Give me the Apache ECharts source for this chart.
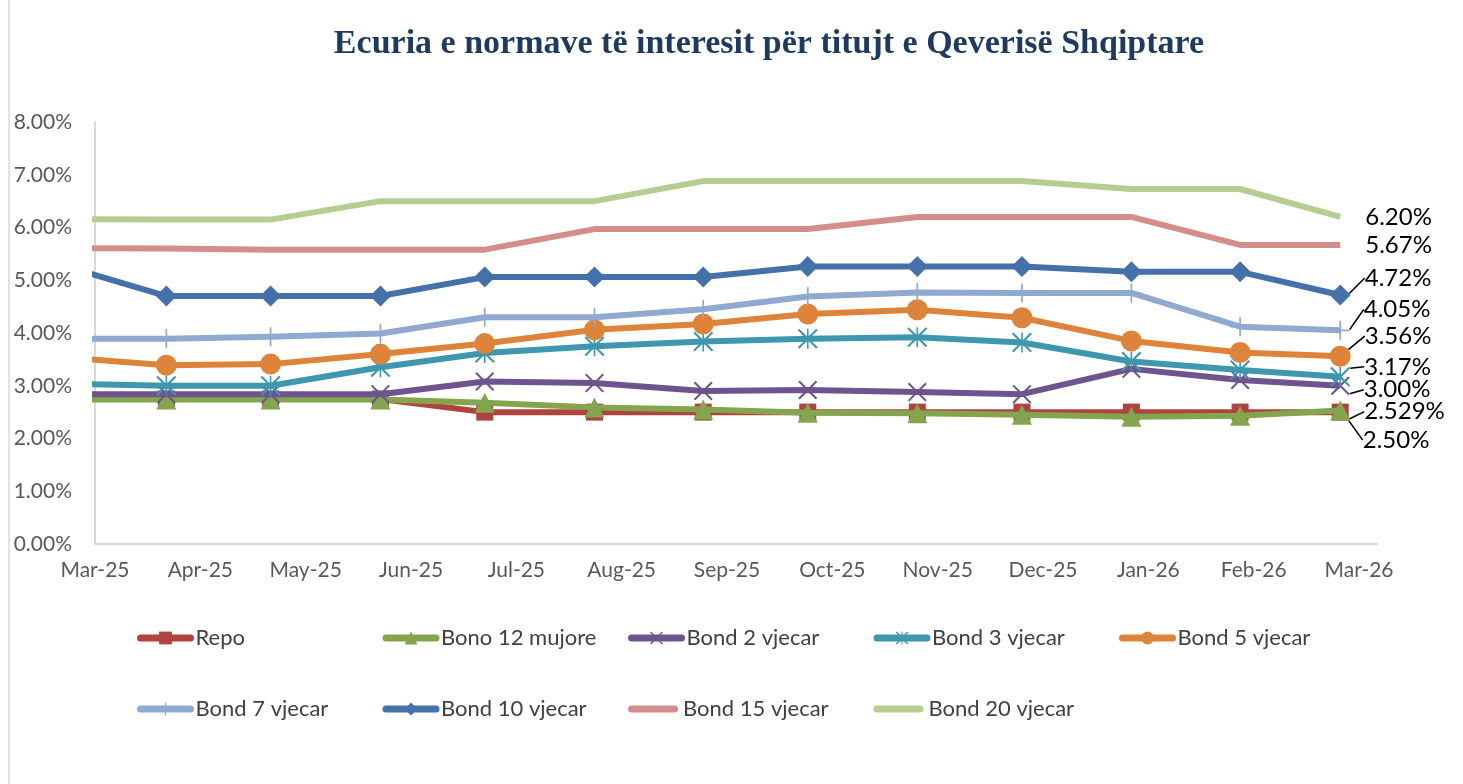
<!DOCTYPE html>
<html><head><meta charset="utf-8">
<script src="https://cdn.jsdelivr.net/npm/echarts@6/dist/echarts.min.js"></script>
<style>html,body{margin:0;padding:0;background:#fff}#c{width:1463px;height:784px}</style>
</head><body><div id="c"></div>
<script>
// ---------- DATA ----------
const chartTitle = 'Ecuria e normave të interesit për titujt e Qeverisë Shqiptare';
const monthLabels = ['Mar-25','Apr-25','May-25','Jun-25','Jul-25','Aug-25','Sep-25','Oct-25','Nov-25','Dec-25','Jan-26','Feb-26','Mar-26'];
const dates = ['2025-02-20','2025-03-22','2025-04-21','2025-05-23','2025-06-22','2025-07-24','2025-08-25','2025-09-24','2025-10-26','2025-11-25','2025-12-27','2026-01-28','2026-02-24'];
const seriesNames = ['Repo','Bono 12 mujore','Bond 2 vjecar','Bond 3 vjecar','Bond 5 vjecar','Bond 7 vjecar','Bond 10 vjecar','Bond 15 vjecar','Bond 20 vjecar'];
const repo   = [2.75,2.75,2.75,2.75,2.50,2.50,2.50,2.50,2.50,2.50,2.50,2.50,2.50];
const bono12 = [2.74,2.74,2.74,2.74,2.68,2.59,2.55,2.49,2.48,2.45,2.41,2.43,2.529];
const bond2  = [2.84,2.84,2.84,2.84,3.08,3.05,2.90,2.92,2.88,2.84,3.32,3.11,3.00];
const bond3  = [3.04,3.00,3.00,3.35,3.62,3.75,3.84,3.89,3.92,3.82,3.46,3.30,3.17];
const bond5  = [3.54,3.39,3.41,3.60,3.80,4.06,4.17,4.36,4.44,4.29,3.85,3.63,3.56];
const bond7  = [3.89,3.89,3.93,3.99,4.30,4.30,4.45,4.69,4.77,4.76,4.76,4.12,4.05];
const bond10 = [5.29,4.70,4.70,4.70,5.06,5.06,5.06,5.26,5.26,5.26,5.16,5.16,4.72];
const bond15 = [5.61,5.60,5.58,5.58,5.58,5.97,5.97,5.97,6.20,6.20,6.20,5.67,5.67];
const bond20 = [6.16,6.15,6.15,6.50,6.50,6.50,6.88,6.88,6.88,6.88,6.73,6.73,6.20];
const seriesValues = [repo,bono12,bond2,bond3,bond5,bond7,bond10,bond15,bond20];
const yTicks = [0,1,2,3,4,5,6,7,8];

// ---------- STYLE ----------
const symX = 'M0,1.5 L1.5,0 L20,18.5 L18.5,20 Z M18.5,0 L20,1.5 L1.5,20 L0,18.5 Z';
const symbols = {
  x: 'path://' + symX,
  star: 'path://' + symX + ' M9.2,0 L10.8,0 L10.8,20 L9.2,20 Z',
  plus: 'path://M9.1,0 L10.9,0 L10.9,20 L9.1,20 Z M0,9.1 L20,9.1 L20,10.9 L0,10.9 Z',
  bar: 'path://M3.5,0 L46.5,0 A3.5,3.5 0 0 1 46.5,7 L3.5,7 A3.5,3.5 0 0 1 3.5,0 Z'
};
const styles = [
  {color:'#B0433F', symbol:'rect', size:17, dy:28, dec:2},
  {color:'#84A44D', symbol:'triangle', size:20, dy:1, dec:3},
  {color:'#6E548F', symbol:symbols.x, size:19, dy:4, dec:2},
  {color:'#3E97AF', symbol:symbols.star, size:20, dy:-10, dec:2},
  {color:'#DE843A', symbol:'circle', size:21, dy:-20, dec:2},
  {color:'#8FA9D1', symbol:symbols.plus, size:19, dy:-21, dec:2},
  {color:'#4471AA', symbol:'diamond', size:21, dy:-17, dec:2},
  {color:'#D48D8B', symbol:'none', size:0, dy:0, dec:2},
  {color:'#B6CD92', symbol:'none', size:0, dy:0, dec:2}
];
const FONT = 'Lato, "Open Sans", sans-serif';
const LINE_W = 6;

function daysIn(y, m){ return new Date(y, m, 0).getDate(); }
function monthPos(s){
  const [y,m,d] = s.split('-').map(Number);
  return (y-2025)*12 + (m-3) + (d-1)/daysIn(y,m);
}
const xs = dates.map(monthPos);

const series = seriesNames.map((name, i) => {
  const st = styles[i];
  const vals = seriesValues[i];
  const hasSym = st.symbol !== 'none';
  const data = vals.map((v, k) => {
    const item = {value:[xs[k], v]};
    if (hasSym && k === vals.length-1) item.label = {show:true};
    return item;
  });
  const s = {
    name, type:'line', data, z: 2 + i,
    symbol: st.symbol, symbolSize: st.size, symbolKeepAspect: true,
    showSymbol: hasSym,
    lineStyle:{color:st.color, width:LINE_W, join:'round'},
    itemStyle:{color:st.color, borderWidth:0},
    emphasis:{disabled:true},
    clip:true,
    label:{show:false, position:'right', distance:14, fontSize:24, fontFamily:FONT, color:'#000',
      formatter: p => p.value[1].toFixed(st.dec) + '%'},
    labelLine:{show:true, lineStyle:{color:'#000', width:1.6}},
    labelLayout: function(params){
      const r = params.rect, lr = params.labelRect;
      const cx = r.x + r.width/2, cy = r.y + r.height/2;
      const ly = lr.y + lr.height/2 + st.dy;
      const sg = st.dy > 3 ? 1 : (st.dy < -3 ? -1 : 0);
      return {dy: st.dy, labelLinePoints: [[cx+1, cy + sg*6], [cx+5, ly], [lr.x - 4, ly]]};
    }
  };
  if (!hasSym) {
    s.labelLine = {show:false};
    delete s.labelLayout;
    s.endLabel = {show:true, distance:25, fontSize:24, fontFamily:FONT, color:'#000',
      formatter: p => p.value[1].toFixed(st.dec) + '%'};
  }
  return s;
});

const legendCols = 5, legendLeft = 137, legendPitch = 245.5, legendTops = [627, 698];
const legends = seriesNames.map((name, i) => {
  const item = styles[i].symbol === 'none' ? {name, icon: symbols.bar} : {name};
  return {
    data:[item], left: legendLeft + (i % legendCols) * legendPitch, top: legendTops[Math.floor(i / legendCols)],
    padding:0, itemWidth:50, itemHeight:16, itemGap:0, selectedMode:false,
    lineStyle:{width:7, cap:'round'},
    textStyle:{fontSize:22, color:'#404040', fontFamily:FONT}
  };
});

const chart = echarts.init(document.getElementById('c'), null, {renderer:'canvas'});
chart.setOption({
  animation:false,
  backgroundColor:'#fff',
  color: styles.map(s => s.color),
  title:{text:chartTitle, left:764, top:22, textAlign:'center',
    textStyle:{fontFamily:'"Liberation Serif", serif', fontWeight:'bold', fontSize:34, color:'#1F3A5F'}},
  grid:{left:95, right:85, top:122, bottom:240},
  xAxis:{type:'value', min:0, max:12.18, interval:1,
    axisLine:{show:true, lineStyle:{color:'#D9D9D9', width:2}},
    axisTick:{show:false}, splitLine:{show:false},
    axisLabel:{margin:16, fontSize:21, color:'#595959', fontFamily:FONT,
      formatter: v => (Math.abs(v - Math.round(v)) < 1e-6 && monthLabels[Math.round(v)]) ? monthLabels[Math.round(v)] : ''}},
  yAxis:{type:'value', min:yTicks[0], max:yTicks[yTicks.length-1], interval:1,
    axisLine:{show:true, lineStyle:{color:'#D9D9D9', width:2}},
    axisTick:{show:false}, splitLine:{show:false},
    axisLabel:{margin:23, fontSize:21, color:'#595959', fontFamily:FONT,
      formatter: v => v.toFixed(2) + '%'}},
  legend: legends,
  graphic:[{type:'line', shape:{x1:9, y1:0, x2:9, y2:784}, silent:true,
    style:{stroke:'#D9D9D9', lineWidth:1.5}}],
  series
});
</script></body></html>
